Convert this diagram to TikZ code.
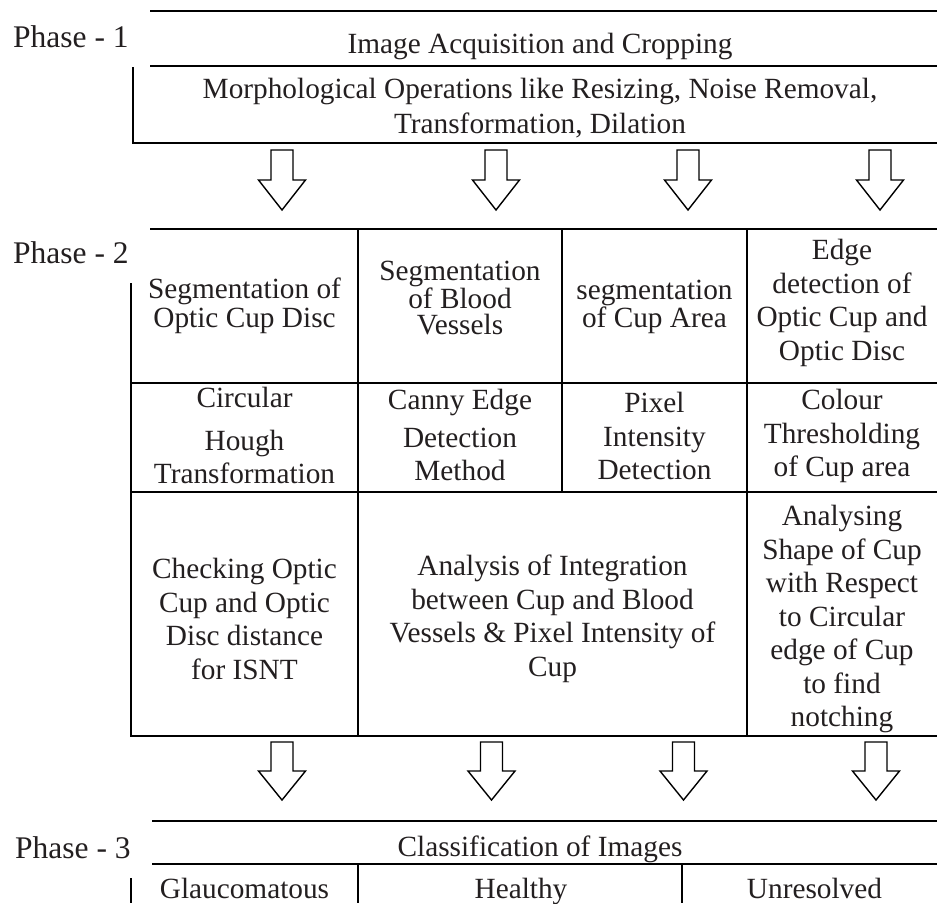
\documentclass[tikz,border=0pt]{standalone}
\usepackage{fontspec}
\setmainfont{Liberation Serif}
\definecolor{ink}{RGB}{35,31,32}
\begin{document}
\begin{tikzpicture}[x=1pt,y=-1pt,
  frame/.style={line width=1.4pt, draw=black},
  txt/.style={text=ink, inner sep=0pt, align=center, font=\fontsize{29.3}{33.5}\selectfont},
  phase/.style={text=ink, inner sep=0pt, anchor=base west, font=\fontsize{31.5}{36}\selectfont},
  pics/blockarrow/.style={code={\draw[frame, fill=white] (-11,0) -- (11,0) -- (11,30) -- (23.5,30) -- (0,60) -- (-23.5,30) -- (-11,30) -- cycle;}}
]
\path[use as bounding box, fill=white] (0,0) rectangle (937,903);

% ---------- Phase 1 ----------
\node[phase] (p1) at (13,47) {Phase - 1};
\draw[frame] (150,11) -- (937,11);
\draw[frame] (150,66) -- (937,66);
\draw[frame] (133,67) -- (133,143) -- (937,143);
\node[txt, anchor=base] (acq) at (540,53) {Image Acquisition and Cropping};
\node[txt, font=\fontsize{29.3}{35}\selectfont] (morph) at (540,108) {Morphological Operations like Resizing, Noise Removal,\\Transformation, Dilation};

% arrows 1 -> 2
\pic at (282,150) {blockarrow};
\pic at (496,150) {blockarrow};
\pic at (688,150) {blockarrow};
\pic at (880,150) {blockarrow};

% ---------- Phase 2 ----------
\node[phase] (p2) at (13,263) {Phase - 2};
\draw[frame] (150,229) -- (937,229);
\draw[frame] (131,283) -- (131,737);
\draw[frame] (131,383) -- (937,383);
\draw[frame] (131,492) -- (937,492);
\draw[frame] (131,736) -- (937,736);
\draw[frame] (358,229) -- (358,736);
\draw[frame] (562,229) -- (562,492);
\draw[frame] (747,229) -- (747,736);

\node[txt, font=\fontsize{29.3}{29}\selectfont] (s1) at (244.5,306) {Segmentation of\\Optic Cup Disc};
\node[txt, font=\fontsize{29.3}{26.5}\selectfont] (s2) at (460,298) {Segmentation\\of Blood\\Vessels};
\node[txt, font=\fontsize{29.3}{28}\selectfont] (s3) at (654.5,307) {segmentation\\of Cup Area};
\node[txt] (s4) at (842,303) {Edge\\detection of\\Optic Cup and\\Optic Disc};

\node[txt] (m1) at (244.5,435.5) {Circular\\[9pt]Hough\\Transformation};
\node[txt] (m2) at (460,435) {Canny Edge\\[4pt]Detection\\Method};
\node[txt] (m3) at (654.5,436) {Pixel\\Intensity\\Detection};
\node[txt] (m4) at (842,436) {Colour\\Thresholding\\of Cup area};

\node[txt] (a1) at (244.5,619) {Checking Optic\\Cup and Optic\\Disc distance\\for ISNT};
\node[txt] (a2) at (552.5,619) {Analysis of Integration\\between Cup and Blood\\Vessels \& Pixel Intensity of\\Cup};
\node[txt] (a3) at (842,619) {Analysing\\Shape of Cup\\with Respect\\to Circular\\edge of Cup\\to find\\notching};

% arrows 2 -> 3
\pic[yscale=0.967] at (282,742) {blockarrow};
\pic[yscale=0.967] at (491.5,742) {blockarrow};
\pic[yscale=0.967] at (683.5,742) {blockarrow};
\pic[yscale=0.967] at (876,742) {blockarrow};

% ---------- Phase 3 ----------
\node[phase] (p3) at (15,858) {Phase - 3};
\draw[frame] (152,821) -- (937,821);
\draw[frame] (152,864) -- (937,864);
\draw[frame] (358,864) -- (358,903);
\draw[frame] (682,864) -- (682,903);
\draw[frame] (131,878) -- (131,903);
\node[txt, anchor=base] (cls) at (540,856) {Classification of Images};
\node[txt, anchor=base] (c1) at (244.5,898) {Glaucomatous};
\node[txt, anchor=base] (c2) at (521,898) {Healthy};
\node[txt, anchor=base] (c3) at (814.5,898) {Unresolved};
\end{tikzpicture}
\end{document}
